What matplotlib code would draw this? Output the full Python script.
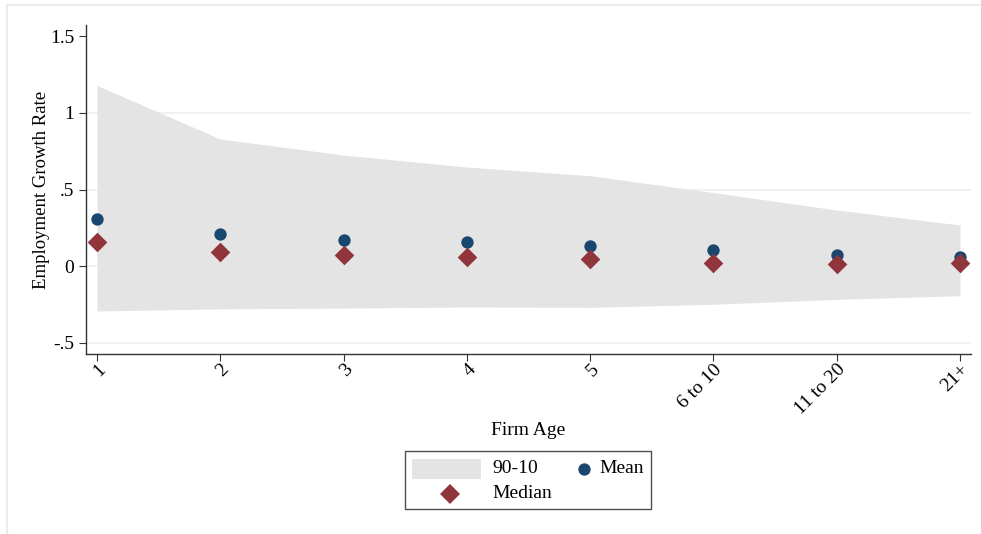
import matplotlib
matplotlib.use("Agg")
import matplotlib.pyplot as plt
from matplotlib.patches import Patch, Rectangle
from matplotlib.lines import Line2D

categories = ["1", "2", "3", "4", "5", "6 to 10", "11 to 20", "21+"]
p90 = [1.18, 0.83, 0.725, 0.647, 0.59, 0.48, 0.366, 0.268]
p10 = [-0.294, -0.28, -0.275, -0.268, -0.27, -0.25, -0.218, -0.194]
mean = [0.307, 0.21, 0.17, 0.154, 0.131, 0.103, 0.074, 0.057]
median = [0.157, 0.092, 0.072, 0.056, 0.044, 0.022, 0.011, 0.022]
yticks = [-0.5, 0, 0.5, 1, 1.5]
ytick_labels = ["-.5", "0", ".5", "1", "1.5"]

BAND = '#e4e4e4'
NAVY = '#1a476f'
MAROON = '#90353b'
MEAN_MS = 8.9
MED_MS = 10.0

plt.rcParams['font.family'] = ['Liberation Serif', 'DejaVu Serif']

fig = plt.figure(figsize=(9.81, 5.34), dpi=100)
# outer frame (top and left edges visible)
fig.add_artist(Line2D([7/981, 7/981], [0, 1 - 5/534], transform=fig.transFigure,
                      color='#e8eef0', linewidth=1.5))
fig.add_artist(Line2D([7/981, 1], [1 - 5/534, 1 - 5/534], transform=fig.transFigure,
                      color='#e8eef0', linewidth=1.5))

ax = fig.add_axes([86/981, (534-354)/534, (971-86)/981, (354-25)/534])
x = list(range(1, len(categories) + 1))

for gy in [-0.5, 0, 0.5, 1]:
    ax.axhline(gy, color='#eaf1f3', linewidth=1.2, zorder=0)

ax.fill_between(x, p10, p90, color=BAND, linewidth=0, zorder=1)
ax.scatter(x, mean, s=MEAN_MS**2, marker='o', color=NAVY, zorder=3, linewidths=0)
ax.scatter(x, median, s=MED_MS**2, marker='D', color=MAROON, zorder=4, linewidths=0)

ax.set_xlim(1 - 11/123.3, 8 + 11/123.3)
ax.set_ylim(-0.575, 1.575)
ax.set_yticks(yticks)
ax.set_yticklabels(ytick_labels, fontsize=14)
ax.set_xticks(x)
ax.set_xticklabels(categories, fontsize=14, rotation=45, ha='right', va='top',
                   rotation_mode='anchor')
ax.tick_params(axis='both', direction='out', length=5, width=0.8, color='#333333')
ax.tick_params(axis='x', pad=0)

for s in ['top', 'right']:
    ax.spines[s].set_visible(False)
for s in ['left', 'bottom']:
    ax.spines[s].set_color('#333333')
    ax.spines[s].set_linewidth(1.0)

ax.set_ylabel("Employment Growth Rate", fontsize=13.5, labelpad=0)
ax.set_xlabel("Firm Age", fontsize=14, labelpad=3)


class BandHandler:
    def legend_artist(self, legend, orig_handle, fontsize, handlebox):
        x0, y0 = -handlebox.xdescent, -handlebox.ydescent
        w, h = handlebox.width, handlebox.height
        cy = y0 + h / 2 - 2
        rh = 14.4
        r = Rectangle((x0, cy - rh / 2), w, rh, facecolor=BAND, edgecolor='none',
                      transform=handlebox.get_transform())
        handlebox.add_artist(r)
        return r


class MarkerHandler:
    def __init__(self, marker, color, size, frac):
        self.marker, self.color, self.size, self.frac = marker, color, size, frac

    def legend_artist(self, legend, orig_handle, fontsize, handlebox):
        x0, y0 = -handlebox.xdescent, -handlebox.ydescent
        w, h = handlebox.width, handlebox.height
        ln = Line2D([x0 + w * self.frac], [y0 + h / 2 - 2], marker=self.marker,
                    linestyle='none', color=self.color, markersize=self.size,
                    markeredgewidth=0, transform=handlebox.get_transform())
        handlebox.add_artist(ln)
        return ln


h_band = Patch(facecolor=BAND, edgecolor='none')
h_mean = Line2D([], [], marker='o', linestyle='none', color=NAVY)
h_med = Line2D([], [], marker='D', linestyle='none', color=MAROON)
leg = fig.legend([h_band, h_med, h_mean], ["90-10", "Median", "Mean"], ncol=2,
                 handler_map={h_band: BandHandler(),
                              h_med: MarkerHandler('D', MAROON, MED_MS, 0.55),
                              h_mean: MarkerHandler('o', NAVY, MEAN_MS, 0.94)},
                 loc='center', bbox_to_anchor=(528/981, 1 - 480/534),
                 fontsize=14, frameon=True, fancybox=False, edgecolor='#222222',
                 handlelength=3.55, handleheight=1.0, columnspacing=-1.7, handletextpad=0.6,
                 labelspacing=0.3, borderpad=0.35, borderaxespad=0)
leg.get_frame().set_linewidth(1.0)

fig.savefig("out.png", dpi=100)
